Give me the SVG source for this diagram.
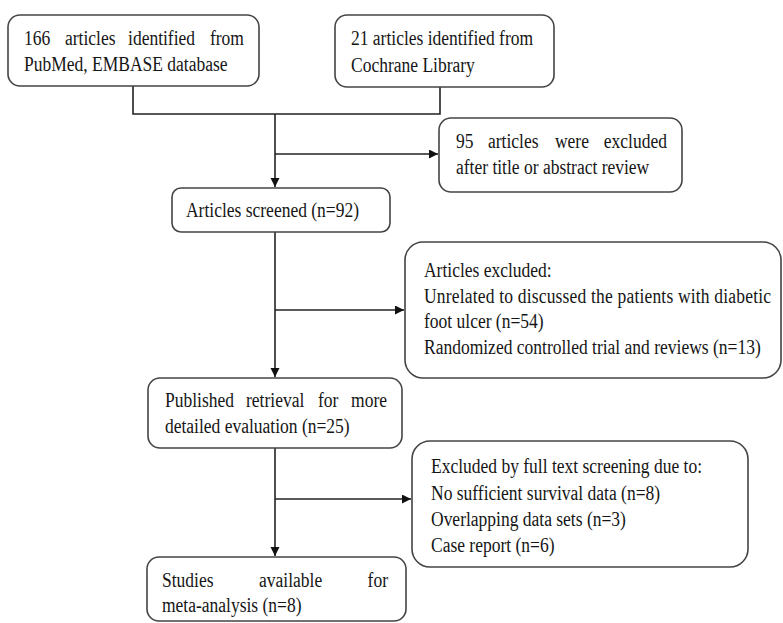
<svg xmlns="http://www.w3.org/2000/svg" width="783" height="623" viewBox="0 0 783 623">
<style>
.box{fill:#fff;stroke:#444;stroke-width:1.6}
.t{font-family:"Liberation Serif","Times New Roman",serif;font-size:20px;fill:#151515}
.ln{fill:none;stroke:#222;stroke-width:1.6}
</style>
<defs>
<marker id="arr" markerUnits="userSpaceOnUse" markerWidth="10" markerHeight="10" refX="9" refY="4.5" orient="auto">
<path d="M0,0 L9,4.5 L0,9 z" fill="#111"/>
</marker>
</defs>
<rect width="783" height="623" fill="#fff"/>
<g id="connectors">
<path class="ln" d="M133,86 V114 H440 V87"/>
<path class="ln" d="M275,114 V187" marker-end="url(#arr)"/>
<path class="ln" d="M275,154 H438" marker-end="url(#arr)"/>
<path class="ln" d="M275,232 V377" marker-end="url(#arr)"/>
<path class="ln" d="M275,310 H404" marker-end="url(#arr)"/>
<path class="ln" d="M275,448 V556" marker-end="url(#arr)"/>
<path class="ln" d="M275,499 H411" marker-end="url(#arr)"/>
</g>
<g id="n1">
<rect class="box" x="8" y="15" width="251" height="71" rx="12"/>
<g transform="translate(24 0) scale(0.875 1) translate(-24 0)">
<text class="t" y="45"><tspan x="24">166</tspan><tspan x="70.9">articles</tspan><tspan x="142.9">identified</tspan><tspan x="275.4" text-anchor="end">from</tspan></text>
<text class="t" x="24" y="71">PubMed, EMBASE database</text>
</g>
</g>
<g id="n2">
<rect class="box" x="335" y="15" width="219" height="72" rx="12"/>
<g transform="translate(351 0) scale(0.875 1) translate(-351 0)">
<text class="t" x="351" y="45">21 articles identified from</text>
<text class="t" x="351" y="72">Cochrane Library</text>
</g>
</g>
<g id="n3">
<rect class="box" x="439" y="118" width="243" height="74" rx="12"/>
<g transform="translate(456 0) scale(0.875 1) translate(-456 0)">
<text class="t" y="148"><tspan x="456">95</tspan><tspan x="492.6">articles</tspan><tspan x="569.1">were</tspan><tspan x="697.1" text-anchor="end">excluded</tspan></text>
<text class="t" x="456" y="174">after title or abstract review</text>
</g>
</g>
<g id="n4">
<rect class="box" x="172" y="188" width="218" height="44" rx="9"/>
<g transform="translate(186 0) scale(0.875 1) translate(-186 0)">
<text class="t" x="186" y="217">Articles screened (n=92)</text>
</g>
</g>
<g id="n5">
<rect class="box" x="405" y="242" width="376" height="136" rx="18"/>
<g transform="translate(424 0) scale(0.875 1) translate(-424 0)">
<text class="t" x="424" y="277">Articles excluded:</text>
<text class="t" x="424" y="303" textLength="396.6" lengthAdjust="spacing">Unrelated to discussed the patients with diabetic</text>
<text class="t" x="424" y="328">foot ulcer (n=54)</text>
<text class="t" x="424" y="354">Randomized controlled trial and reviews (n=13)</text>
</g>
</g>
<g id="n6">
<rect class="box" x="148" y="378" width="254" height="70" rx="12"/>
<g transform="translate(165 0) scale(0.875 1) translate(-165 0)">
<text class="t" y="407"><tspan x="165">Published</tspan><tspan x="257.6">retrieval</tspan><tspan x="339.9">for</tspan><tspan x="418.7" text-anchor="end">more</tspan></text>
<text class="t" x="165" y="433">detailed evaluation (n=25)</text>
</g>
</g>
<g id="n7">
<rect class="box" x="412" y="441" width="336" height="126" rx="18"/>
<g transform="translate(431 0) scale(0.875 1) translate(-431 0)">
<text class="t" x="431" y="473">Excluded by full text screening due to:</text>
<text class="t" x="431" y="500">No sufficient survival data (n=8)</text>
<text class="t" x="431" y="526">Overlapping data sets (n=3)</text>
<text class="t" x="431" y="552">Case report (n=6)</text>
</g>
</g>
<g id="n8">
<rect class="box" x="147" y="557" width="259" height="64" rx="12"/>
<g transform="translate(162 0) scale(0.875 1) translate(-162 0)">
<text class="t" y="587"><tspan x="162">Studies</tspan><tspan x="272.9">available</tspan><tspan x="420.3" text-anchor="end">for</tspan></text>
<text class="t" x="162" y="612">meta-analysis (n=8)</text>
</g>
</g>
</svg>
